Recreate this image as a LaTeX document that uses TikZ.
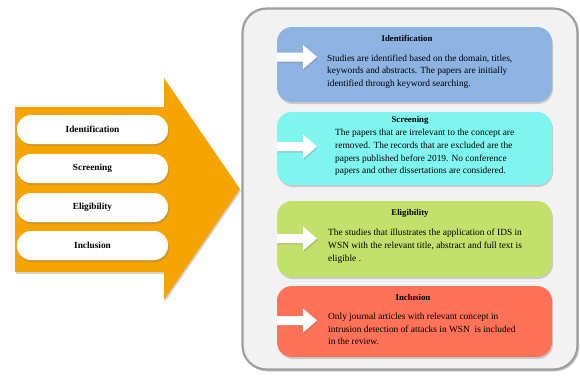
\documentclass[tikz,border=0pt]{standalone}
\usepackage{fontspec}
\setmainfont{Liberation Serif}
\usetikzlibrary{shadows}

\definecolor{arroworange}{HTML}{F7A300}
\definecolor{panelgray}{HTML}{F2F2F2}
\definecolor{identblue}{HTML}{8DB3E2}
\definecolor{screencyan}{HTML}{7FF5EF}
\definecolor{eligreen}{HTML}{C3E06B}
\definecolor{inclred}{HTML}{FF7257}

\begin{document}
\begin{tikzpicture}[
		x=1pt, y=-1pt,
		every node/.style={inner sep=0pt, font=\fontsize{9.4}{12.7}\selectfont},
		soft shadow/.style={drop shadow={shadow xshift=1pt, shadow yshift=-2pt, opacity=0.35}},
		pill/.style={rectangle, rounded corners=14pt, fill=white, minimum width=151pt,
			minimum height=29pt, soft shadow, font=\fontsize{9.3}{10}\selectfont\bfseries},
		stage/.style={rectangle, rounded corners=15pt, minimum width=275pt, soft shadow},
		title/.style={font=\fontsize{8.8}{10}\selectfont\bfseries},
		body/.style={anchor=west, align=left},
		notch/.style={fill=white, drop shadow={shadow xshift=1pt, shadow yshift=-1.5pt, opacity=0.3}}
	]
  \useasboundingbox (0,0) rectangle (580,376);
  % big orange arrow with the four steps
  \fill[arroworange, soft shadow] (15,107) -- (164,107) -- (164,78) -- (240,189)
    -- (164,300) -- (164,272) -- (15,272) -- cycle;
  \node (p_ident) [pill] at (92.5,129.5) {Identification};
  \node (p_screen) [pill] at (92.5,168.5) {Screening};
  \node (p_elig) [pill] at (92.5,207.5) {Eligibility};
  \node (p_incl) [pill] at (92.5,245.5) {Inclusion};
  % panel on the right
  \node (panel) [rectangle, rounded corners=24pt, fill=panelgray, draw=gray!75, line width=2.2pt,
    minimum width=335pt, minimum height=361pt,
    drop shadow={shadow xshift=1.5pt, shadow yshift=-2pt, opacity=0.4}] at (410,189) {};
  \node (ident) [stage, fill=identblue, minimum height=75pt] at (414.5,64.5) {};
  \node (screen) [stage, fill=screencyan, minimum height=73pt] at (414.5,148.5) {};
  \node (elig) [stage, fill=eligreen, minimum height=76pt] at (414.5,239) {};
  \node (incl) [stage, fill=inclred, minimum height=71pt] at (414.5,321.5) {};
  \foreach \y in {57,146.5,238.5,320.5}
    \fill[notch] (277,\y-4.5) -- (303,\y-4.5) -- (303,\y-12) -- (317,\y)
      -- (303,\y+12) -- (303,\y+4.5) -- (277,\y+4.5) -- cycle;
  \node (ident_t) [title] at (407,38) {Identification};
  \node (ident_b) [body] at (327,71.5) {Studies are identified based on the domain, titles,\\
    keywords and abstracts. The papers are initially\\identified through keyword searching.};
  \node (screen_t) [title] at (410,120) {Screening};
  \node (screen_b) [body] at (335,152.5) {The papers that are irrelevant to the concept are\\
    removed. The records that are excluded are the\\papers published before 2019. No conference\\
    papers and other dissertations are considered.};
  \node (elig_t) [title] at (410,213) {Eligibility};
  \node (elig_b) [body] at (328,246) {The studies that illustrates the application of IDS in\\
    WSN with the relevant title, abstract and full text is\\eligible .};
  \node (incl_t) [title] at (413,297) {Inclusion};
  \node (incl_b) [body] at (328,329) {Only journal articles with relevant concept in\\
    intrusion detection of attacks in WSN~ is included\\in the review.};
\end{tikzpicture}
\end{document}
